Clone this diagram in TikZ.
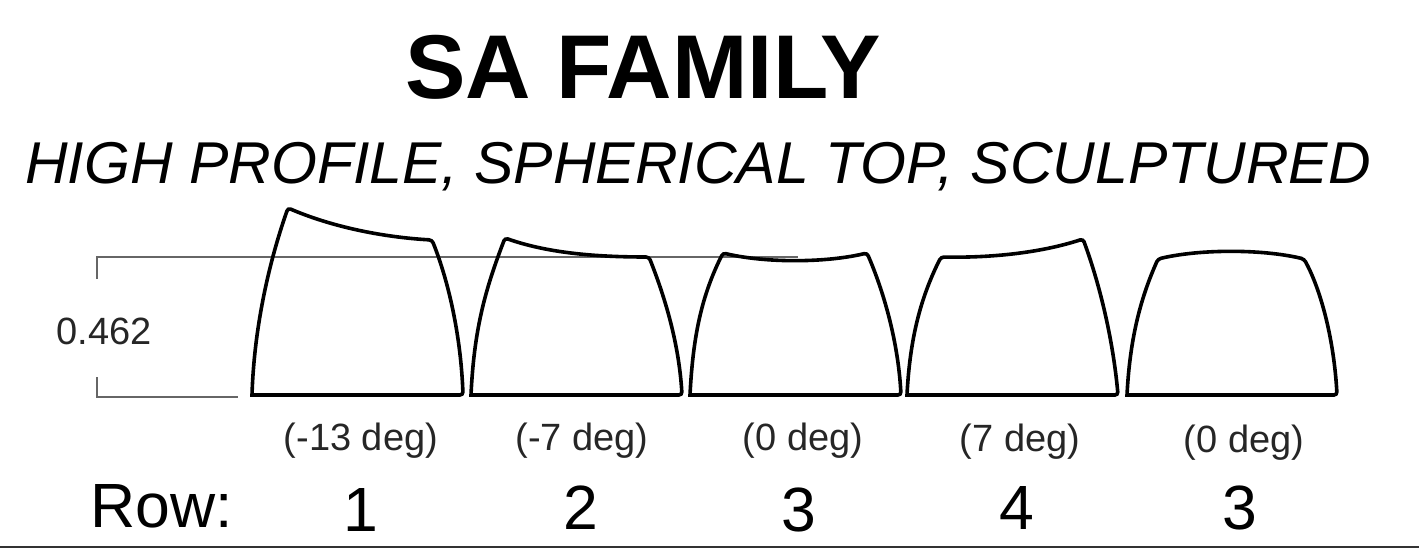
\documentclass[tikz,border=0pt]{standalone}
\usepackage{fontspec}
\setmainfont{Liberation Sans}
\usetikzlibrary{positioning}

\definecolor{dimgray}{HTML}{666666}
\tikzset{
  keyline/.style={draw=black,line width=3.6pt,line join=miter},
  dimline/.style={draw=dimgray,line width=2.6pt},
  basetext/.style={inner sep=0pt,text=black},
  titletext/.style={basetext,font=\fontsize{90.6}{94}\selectfont\bfseries},
  subtext/.style={basetext,font=\fontsize{59}{62}\selectfont\itshape},
  angletext/.style={basetext,text=black!85,font=\fontsize{38}{41}\selectfont},
  rowtext/.style={basetext,font=\fontsize{62.5}{66}\selectfont}
}

\begin{document}
\begin{tikzpicture}[x=1pt,y=-1pt]
  \useasboundingbox (0,0) rectangle (1419,548);

  % --- Headings ---
  \node[titletext] (title) at (643,67) {SA FAMILY};
  \node[subtext] (subtitle) at (698,167) {HIGH PROFILE, SPHERICAL TOP, SCULPTURED};

  % --- Dimension bracket ---
  \coordinate (dimtopend) at (798,257);
  \coordinate (dimtop) at (97,257);
  \coordinate (dimtoptick) at (97,279);
  \coordinate (dimlowtick) at (97,377);
  \coordinate (dimlow) at (97,397);
  \coordinate (dimlowend) at (238,397);
  \draw[dimline] (dimtoptick) -- (dimtop) -- (dimtopend);
  \draw[dimline] (dimlowtick) -- (dimlow) -- (dimlowend);
  \node[angletext] (height) at (104,331) {0.462};

  % --- Key profiles ---
  \draw[keyline] (252,395) [rounded corners=3pt] .. controls (254,330) and (268,265) .. (288,208)
    .. controls (330,226) and (380,237) .. (432,240)
    .. controls (450,285) and (461,340) .. (463,395) [sharp corners] -- cycle;
  \draw[keyline] (471,395) [rounded corners=3pt] .. controls (474,330) and (485,290) .. (505,238)
    .. controls (545,252) and (590,257) .. (649,257)
    .. controls (666,300) and (679,345) .. (682,395) [sharp corners] -- cycle;
  \draw[keyline] (690,395) [rounded corners=3pt] .. controls (693,335) and (702,295) .. (723,253)
    .. controls (765,263) and (825,263) .. (867,253)
    .. controls (883,290) and (898,340) .. (901,395) [sharp corners] -- cycle;
  \draw[keyline] (907,395) [rounded corners=3pt] .. controls (910,335) and (922,295) .. (941,257)
    .. controls (990,258) and (1040,253) .. (1083,239)
    .. controls (1100,285) and (1113,340) .. (1118,395) [sharp corners] -- cycle;
  \draw[keyline] (1127,395) [rounded corners=3pt] .. controls (1130,335) and (1142,295) .. (1158,259)
    .. controls (1200,249) and (1262,249) .. (1304,259)
    .. controls (1321,290) and (1334,340) .. (1337,395) [sharp corners] -- cycle;

  % --- Top angles ---
  \node[angletext] (angleA) at (361,441) {(-13 deg)};
  \node[angletext] (angleB) at (582,441) {(-7 deg)};
  \node[angletext] (angleC) at (803,441) {(0 deg)};
  \node[angletext] (angleD) at (1020,442) {(7 deg)};
  \node[angletext] (angleE) at (1244,443) {(0 deg)};

  % --- Row numbers ---
  \node[rowtext] (rowname) at (162,506) {Row:};
  \node[rowtext] (rowA) at (361,510) {1};
  \node[rowtext] (rowB) at (581,508) {2};
  \node[rowtext] (rowC) at (799,510) {3};
  \node[rowtext] (rowD) at (1017,508) {4};
  \node[rowtext] (rowE) at (1240,508) {3};

  % --- Bottom edge ---
  \coordinate (edgeleft) at (0,547);
  \coordinate (edgeright) at (1419,547);
  \draw[draw=black!80,line width=2pt] (edgeleft) -- (edgeright);
\end{tikzpicture}
\end{document}
